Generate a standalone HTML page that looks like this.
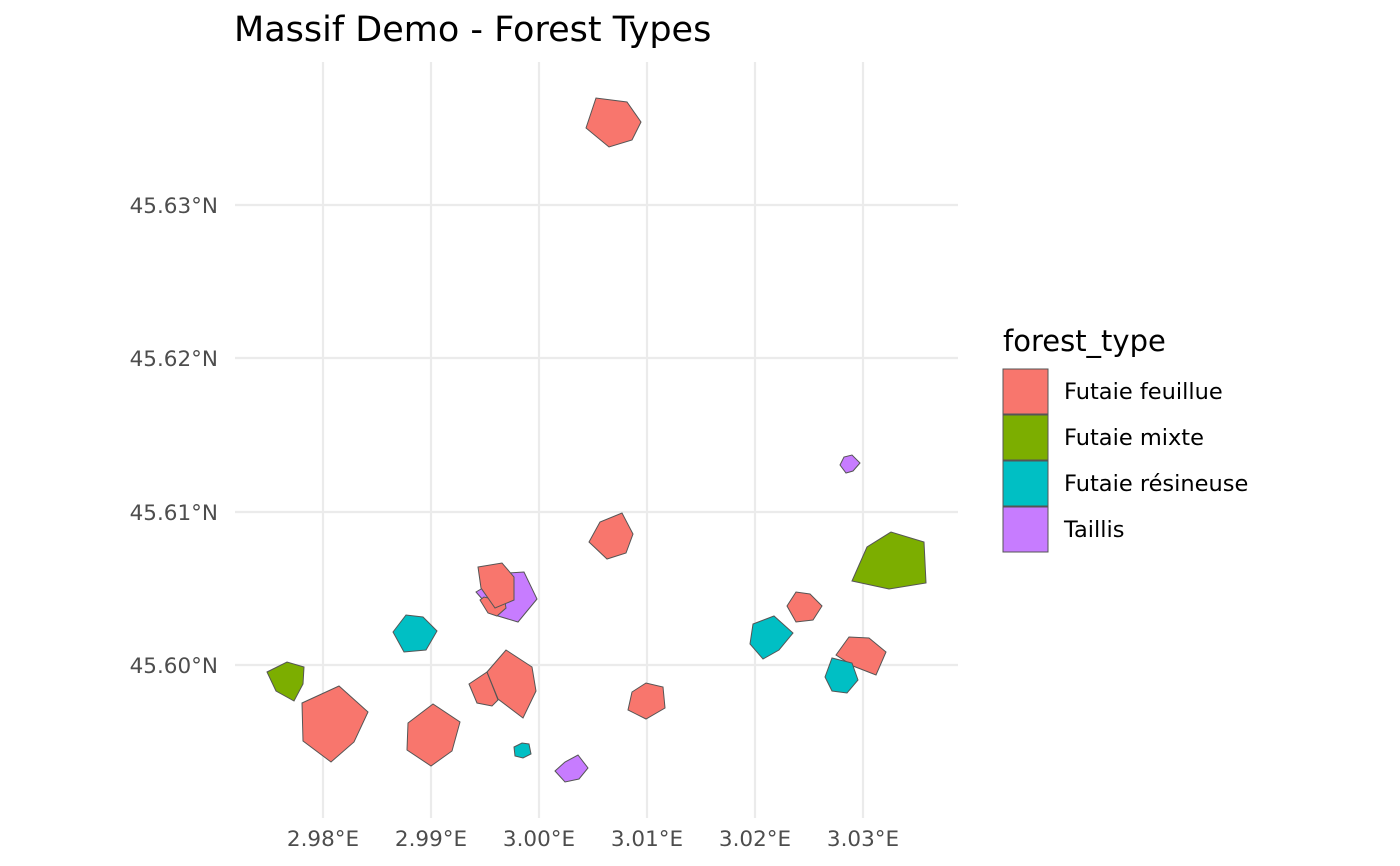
<!DOCTYPE html>
<html><head><meta charset="utf-8"><style>
body{margin:0;background:#fff;}
svg{display:block;font-family:"DejaVu Sans","Liberation Sans",sans-serif;}
</style></head><body>
<svg width="1400" height="866" viewBox="0 0 1400 866">
<rect width="1400" height="866" fill="#fff"/>
<g stroke="#ebebeb" stroke-width="2.2">
<line x1="323" y1="62" x2="323" y2="818"/><line x1="431" y1="62" x2="431" y2="818"/>
<line x1="539" y1="62" x2="539" y2="818"/><line x1="647" y1="62" x2="647" y2="818"/>
<line x1="755" y1="62" x2="755" y2="818"/><line x1="863" y1="62" x2="863" y2="818"/>
<line x1="235" y1="205" x2="958" y2="205"/><line x1="235" y1="358" x2="958" y2="358"/>
<line x1="235" y1="512" x2="958" y2="512"/><line x1="235" y1="665" x2="958" y2="665"/>
</g>
<g stroke="#555" stroke-width="1">
<polygon fill="#F8766D" points="586,128 596,98 627,102 641,122 632,140 609,147"/>
<polygon fill="#7CAE00" points="267,672 287,662 304,667 303,684 294,701 276,691"/>
<polygon fill="#F8766D" points="302,703 339,686 368,712 354,742 331,762 303,741"/>
<polygon fill="#F8766D" points="408,723 433,704 460,722 452,751 431,766 407,750"/>
<polygon fill="#00BFC4" points="393,632 406,615 423,617 437,631 426,650 404,652"/>
<polygon fill="#C77CFF" points="476,592 508,573 524,572 537,599 518,622 498,616 483,600"/>
<polygon fill="#F8766D" points="480,600 484,597 505,602 506,608 497,616 488,613"/>
<polygon fill="#F8766D" points="478,567 502,563 514,577 514,600 495,608 481,588"/>
<polygon fill="#F8766D" points="469,684 487,672 498,700 492,706 477,703"/>
<polygon fill="#F8766D" points="487,672 506,650 532,667 536,691 523,718 498,699"/>
<polygon fill="#00BFC4" points="514,747 522,743 529,744 531,754 523,758 515,756"/>
<polygon fill="#C77CFF" points="555,771 565,762 578,755 588,768 579,779 565,782"/>
<polygon fill="#F8766D" points="632,692 646,683 663,687 665,708 646,719 628,710"/>
<polygon fill="#F8766D" points="589,542 600,522 622,513 633,534 626,553 607,559"/>
<polygon fill="#C77CFF" points="840,465 844,457 852,455 860,463 853,471 846,473"/>
<polygon fill="#7CAE00" points="852,581 867,547 891,532 924,542 926,583 889,589"/>
<polygon fill="#F8766D" points="787,606 796,592 810,594 822,606 813,620 796,622"/>
<polygon fill="#00BFC4" points="750,644 753,624 774,616 793,633 779,650 763,659"/>
<polygon fill="#F8766D" points="836,655 849,637 869,638 886,652 876,675 853,666"/>
<polygon fill="#00BFC4" points="825,677 832,658 852,663 858,680 847,693 832,691"/>
</g>
<g fill="#4d4d4d" font-size="21.5" text-anchor="end">
<text x="218" y="213">45.63°N</text><text x="218" y="366">45.62°N</text>
<text x="218" y="520">45.61°N</text><text x="218" y="673">45.60°N</text>
</g>
<g fill="#4d4d4d" font-size="21.5" text-anchor="middle">
<text x="323" y="846">2.98°E</text><text x="431" y="846">2.99°E</text>
<text x="539" y="846">3.00°E</text><text x="647" y="846">3.01°E</text>
<text x="755" y="846">3.02°E</text><text x="863" y="846">3.03°E</text>
</g>
<text x="234" y="41" font-size="35" fill="#000">Massif Demo - Forest Types</text>
<text x="1003" y="351" font-size="29" fill="#000">forest_type</text>
<g stroke="#555" stroke-width="1">
<rect x="1003" y="369" width="45" height="45" fill="#F8766D"/>
<rect x="1003" y="415" width="45" height="45" fill="#7CAE00"/>
<rect x="1003" y="461" width="45" height="45" fill="#00BFC4"/>
<rect x="1003" y="507" width="45" height="45" fill="#C77CFF"/>
</g>
<g font-size="22.5" fill="#000">
<text x="1064" y="399">Futaie feuillue</text>
<text x="1064" y="445">Futaie mixte</text>
<text x="1064" y="491">Futaie résineuse</text>
<text x="1064" y="537">Taillis</text>
</g>
</svg>
</body></html>
